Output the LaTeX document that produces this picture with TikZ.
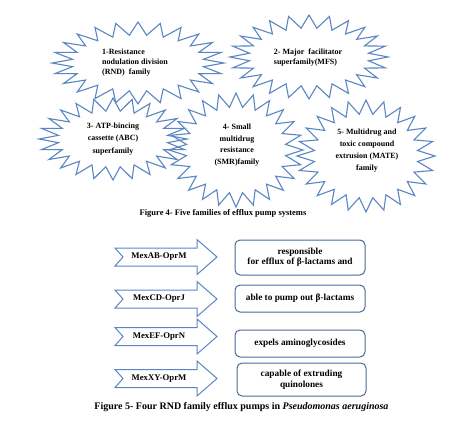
\documentclass[tikz,border=0pt]{standalone}
\usepackage{fontspec}
\setmainfont{Liberation Serif}
\definecolor{burstblue}{HTML}{5A87C4}
\definecolor{arrowblue}{HTML}{5A87C4}
\definecolor{boxblue}{HTML}{4A6A98}
\tikzset{
  burstline/.style={draw=burstblue, line width=1.1pt, line join=miter},
  bursttext/.style={font=\fontsize{8}{#1}\selectfont\bfseries, inner sep=0pt},
  bursttext/.default=10,
  pumparrow/.style={draw=arrowblue, line width=1pt, fill=white, line join=miter},
  pumptext/.style={font=\fontsize{8.7}{9}\selectfont\bfseries, inner sep=0pt},
  effectbox/.style={draw=boxblue, line width=1pt, rounded corners=5pt, fill=white,
    minimum width=130pt, align=center, inner sep=0pt,
    font=\fontsize{9.3}{10.5}\selectfont\bfseries},
  captiontext/.style={font=\fontsize{#1}{#1}\selectfont\bfseries, inner sep=0pt},
}
% cx cy rx_outer ry_outer rx_inner ry_inner
\newcommand\drawburst[6]{%
  \draw[burstline] ({#1+#3},{#2})
    \foreach \k in {1,...,47}{
      -- ({#1+ifthenelse(isodd(\k),#5,#3)*cos(\k*7.5)},{#2+ifthenelse(isodd(\k),#6,#4)*sin(\k*7.5)})
    } -- cycle;
}
% mid y
\newcommand\drawpump[1]{%
  \draw[pumparrow] (115,#1-9) -- (197,#1-9) -- (197,#1-17.5) -- (217,#1)
    -- (197,#1+17.5) -- (197,#1+9) -- (115,#1+9) -- (123,#1) -- cycle;
}
\begin{document}
\begin{tikzpicture}[x=1pt,y=-1pt]
  \fill[white] (0,0) rectangle (474,421);
  \useasboundingbox (0,0) rectangle (474,421);

  % five families
  \drawburst{138}{63}{86}{41}{66}{28}
  \drawburst{309}{57}{79}{42}{60}{29}
  \drawburst{113}{139}{74}{41}{55}{28}
  \drawburst{236}{150}{67}{57}{50}{43}
  \drawburst{366}{156}{69}{56}{52}{42}

  \node[bursttext, align=left] (f1) at (135,63) {1-Resistance\\nodulation division\\(RND)\ \ family};
  \node[bursttext, align=left] (f2) at (308,58) {2- Major\ \ facilitator\\superfamily(MFS)};
  \node[bursttext=12.5, align=center] (f3) at (113,139) {3- ATP-bincing\\cassette (ABC)\\superfamily};
  \node[bursttext=11.5, align=center] (f4) at (237,145) {4- Small\\multidrug\\resistance\\(SMR)family};
  \node[bursttext=12, align=center] (f5) at (367,151) {5- Multidrug and\\toxic compound\\extrusion (MATE)\\family};

  \node[captiontext=8.5] (cap4) at (223,213) {Figure 4- Five families of efflux pump systems};

  % pumps
  \drawpump{257}
  \drawpump{299}
  \drawpump{336.5}
  \drawpump{378.5}
  \node[pumptext] (p1) at (159,257) {MexAB-OprM};
  \node[pumptext] (p2) at (159,299) {MexCD-OprJ};
  \node[pumptext] (p3) at (159,336.5) {MexEF-OprN};
  \node[pumptext] (p4) at (159,378.5) {MexXY-OprM};

  \node[effectbox, minimum height=35pt] (b1) at (300,257.5) {responsible\\for efflux of β-lactams and};
  \node[effectbox, minimum height=27pt] (b2) at (300,298.5) {able to pump out β-lactams};
  \node[effectbox, minimum height=27pt] (b3) at (300,343.5) {expels aminoglycosides};
  \node[effectbox, minimum height=33pt, minimum width=129pt] (b4) at (301.5,379.5) {capable of extruding\\quinolones};

  \node[captiontext=10] (cap5) at (241.5,407) {Figure 5- Four RND family efflux pumps in \textit{Pseudomonas aeruginosa}};
\end{tikzpicture}
\end{document}
